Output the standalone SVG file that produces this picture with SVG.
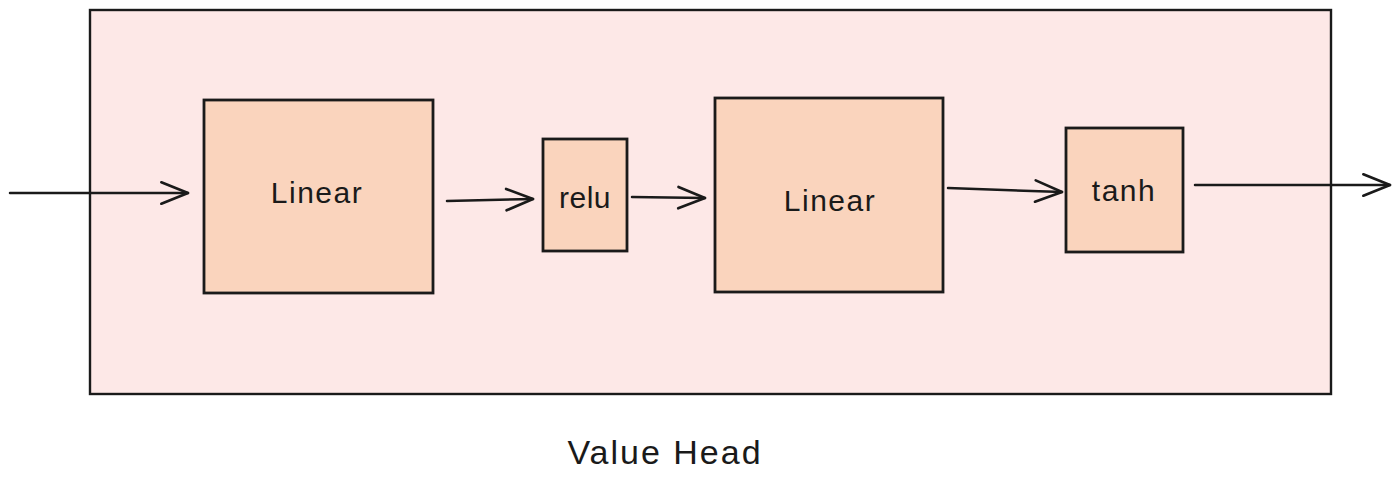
<svg xmlns="http://www.w3.org/2000/svg" width="1400" height="487" viewBox="0 0 1400 487">
<style>
.box{fill:#fad4bd;stroke:#1a1a1a;stroke-width:2.8}
.outer{fill:#fde8e7;stroke:#1a1a1a;stroke-width:2.4}
.lbl{font-family:"Liberation Sans",Arial,sans-serif;font-size:30px;fill:#1a1a1a;text-anchor:middle;dominant-baseline:central;letter-spacing:1.5px}
.conn{fill:none;stroke:#1a1a1a;stroke-width:2.5;stroke-linecap:round}
</style>
<defs>
<marker id="ah" markerWidth="32" markerHeight="32" refX="27" refY="13" orient="auto" markerUnits="userSpaceOnUse" viewBox="0 0 30 26">
<path d="M2,3 L27,13 L2,23" fill="none" stroke="#1a1a1a" stroke-width="2.5" stroke-linecap="round" stroke-linejoin="round"/>
</marker>
</defs>
<g id="value-head">
<rect class="outer" x="90" y="10" width="1241" height="384"/>
<text class="lbl" x="665" y="452" style="font-size:34px;letter-spacing:2px">Value Head</text>
</g>
<g id="linear1">
<rect class="box" x="204" y="100" width="229" height="193"/>
<text class="lbl" x="317" y="192">Linear</text>
</g>
<g id="relu">
<rect class="box" x="543" y="139" width="84" height="112"/>
<text class="lbl" x="585" y="197" style="letter-spacing:0.5px">relu</text>
</g>
<g id="linear2">
<rect class="box" x="715" y="98" width="228" height="194"/>
<text class="lbl" x="830" y="200">Linear</text>
</g>
<g id="tanh">
<rect class="box" x="1066" y="128" width="117" height="124"/>
<text class="lbl" x="1124" y="190">tanh</text>
</g>
<g id="connectors">
<path class="conn" d="M10,193 L188,193" marker-end="url(#ah)"/>
<path class="conn" d="M447,201 L533,199" marker-end="url(#ah)"/>
<path class="conn" d="M632,197 L705,198" marker-end="url(#ah)"/>
<path class="conn" d="M948,188 L1062,192" marker-end="url(#ah)"/>
<path class="conn" d="M1195,185 L1390,185" marker-end="url(#ah)"/>
</g>
</svg>
